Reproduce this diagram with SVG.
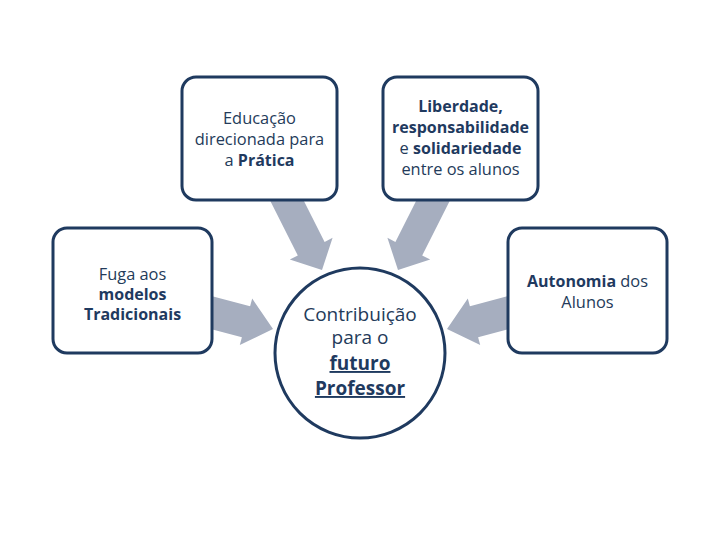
<svg xmlns="http://www.w3.org/2000/svg" width="720" height="540" viewBox="0 0 720 540">
<style>
.box{fill:#fff;stroke:#1f3a5f;stroke-width:3}
.arr{fill:#a6aebf}
text{font-family:"Open Sans","Liberation Sans",sans-serif;font-size:16.4px;fill:#243b5a;text-anchor:middle}
.b{font-weight:bold;fill:#1f3a5f;font-size:16px}
.c{font-size:19px}
</style>
<rect width="720" height="540" fill="#fff"/>
<g id="connectors">
<polygon class="arr" points="201.8,293.4 250.1,306.3 252.2,298.6 273,329 239.8,345 241.9,337.3 193.6,324.4"/>
<polygon class="arr" points="518.2,293.4 469.9,306.3 467.8,298.6 447,329 480.2,345 478.1,337.3 526.4,324.4"/>
<polygon class="arr" points="266.3,192.9 293.1,179.4 324.6,241.9 332.6,237.8 322,270 289.8,259.4 297.8,255.4"/>
<polygon class="arr" points="453.7,192.9 426.9,179.4 395.4,241.9 387.4,237.8 398,270 430.2,259.4 422.2,255.4"/>
</g>
<g id="node-educacao">
<rect class="box" x="182" y="77" width="155" height="123" rx="14"/>
<text x="259.5" y="124">Educação</text>
<text x="259.5" y="145">direcionada para</text>
<text x="259.5" y="166">a <tspan class="b">Prática</tspan></text>
</g>
<g id="node-liberdade">
<rect class="box" x="383" y="77" width="155" height="123" rx="14"/>
<text x="460.5" y="112" class="b">Liberdade,</text>
<text x="460.5" y="133" class="b">responsabilidade</text>
<text x="460.5" y="154">e <tspan class="b">solidariedade</tspan></text>
<text x="460.5" y="175">entre os alunos</text>
</g>
<g id="node-fuga">
<rect class="box" x="53" y="228" width="159" height="125" rx="14"/>
<text x="132.5" y="280">Fuga aos</text>
<text x="132.5" y="300" class="b">modelos</text>
<text x="132.5" y="320" class="b">Tradicionais</text>
</g>
<g id="node-autonomia">
<rect class="box" x="508" y="228" width="159" height="125" rx="14"/>
<text x="587.5" y="287"><tspan class="b">Autonomia</tspan> dos</text>
<text x="587.5" y="308">Alunos</text>
</g>
<g id="node-contribuicao">
<circle class="box" cx="360" cy="353" r="85"/>
<text x="360" y="320.5" class="c">Contribuição</text>
<text x="360" y="344" class="c">para o</text>
<text x="360" y="370" class="c b" text-decoration="underline" style="font-size:19px">futuro</text>
<text x="360" y="395" class="c b" text-decoration="underline" style="font-size:19px">Professor</text>
</g>
</svg>
